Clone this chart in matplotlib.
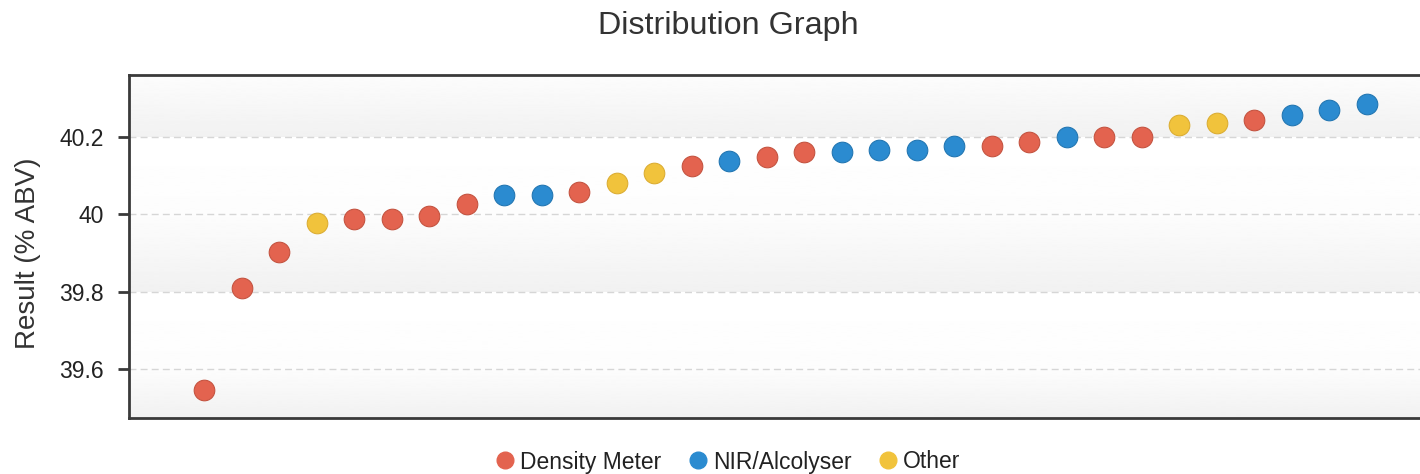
import numpy as np
import matplotlib
matplotlib.use("Agg")
import matplotlib.pyplot as plt
from matplotlib.lines import Line2D

plt.rcParams['font.family'] = ['Liberation Sans', 'DejaVu Sans']

title = "Distribution Graph"
y_label = "Result (% ABV)"
methods = ["Density Meter", "NIR/Alcolyser", "Other"]
method_colors = {"Density Meter": "#e3634f", "NIR/Alcolyser": "#2b8bd0", "Other": "#f1c33c"}
edge_colors = {"Density Meter": "#c55441", "NIR/Alcolyser": "#2377b3", "Other": "#dcae34"}

results = [39.546, 39.81, 39.904, 39.977, 39.987, 39.987, 39.997, 40.028,
           40.051, 40.051, 40.057, 40.08, 40.107, 40.126, 40.137, 40.149,
           40.16, 40.16, 40.165, 40.165, 40.177, 40.176, 40.188, 40.2,
           40.2, 40.2, 40.23, 40.235, 40.245, 40.257, 40.269, 40.286]
result_methods = ["Density Meter", "Density Meter", "Density Meter", "Other",
                  "Density Meter", "Density Meter", "Density Meter", "Density Meter",
                  "NIR/Alcolyser", "NIR/Alcolyser", "Density Meter", "Other",
                  "Other", "Density Meter", "NIR/Alcolyser", "Density Meter",
                  "Density Meter", "NIR/Alcolyser", "NIR/Alcolyser", "NIR/Alcolyser",
                  "NIR/Alcolyser", "Density Meter", "Density Meter", "NIR/Alcolyser",
                  "Density Meter", "Density Meter", "Other", "Other",
                  "Density Meter", "NIR/Alcolyser", "NIR/Alcolyser", "NIR/Alcolyser"]
y_ticks = [39.6, 39.8, 40.0, 40.2]
y_tick_labels = ["39.6", "39.8", "40", "40.2"]

fig = plt.figure(figsize=(14.2, 4.74), dpi=100)
ax = fig.add_axes([129 / 1420, 56 / 474, 1312.5 / 1420, 343 / 474])

ymin, ymax = 39.474, 40.36
xmin, xmax = -2, 33
ax.set_xlim(xmin, xmax)
ax.set_ylim(ymin, ymax)

# alternating plot bands, the shaded ones with a soft vertical gradient
edges = [ymin] + y_ticks + [ymax]
for i in range(len(edges) - 1):
    lo, hi = edges[i], edges[i + 1]
    if i % 2 == 0:
        grad = np.linspace(0.945, 0.99, 64).reshape(-1, 1)
    else:
        grad = np.linspace(0.99, 1.0, 64).reshape(-1, 1)
    ax.imshow(grad, cmap="gray", vmin=0, vmax=1, aspect="auto",
              extent=[xmin, xmax, lo, hi], origin="lower", zorder=0,
              interpolation="bilinear")

ax.set_yticks(y_ticks)
ax.set_yticklabels(y_tick_labels)
ax.set_xticks([])
ax.grid(axis="y", color="#d6d6d6", linestyle=(0, (5, 3)), linewidth=1.0, zorder=1)

x = np.arange(len(results))
for m in methods:
    idx = [i for i, mm in enumerate(result_methods) if mm == m]
    ax.scatter(x[idx], np.array(results)[idx], s=220, color=method_colors[m],
               edgecolor=edge_colors[m], linewidth=0.8, zorder=3)

for side in ["top", "left", "bottom", "right"]:
    ax.spines[side].set_color("#3a3a3a")
    ax.spines[side].set_linewidth(2)

ax.tick_params(axis="y", direction="out", length=8, width=2, color="#3a3a3a",
               labelsize=16.5, labelcolor="#222222", pad=10)

fig.text(28 / 1420, 1 - 253 / 474, y_label, rotation=90, fontsize=20,
         color="#333333", ha="center", va="center")
fig.text(728 / 1420, 1 - 26 / 474, title, fontsize=23.3, color="#333333",
         ha="center", va="center")

handles = [Line2D([0], [0], marker="o", linestyle="none", markersize=12,
                  markerfacecolor=method_colors[m], markeredgecolor=method_colors[m])
           for m in methods]
fig.legend(handles, methods, loc="center", bbox_to_anchor=(728 / 1420, 1 - 462 / 474),
           ncol=3, frameon=False, fontsize=16.5, handlelength=0.8, handletextpad=0.25,
           columnspacing=1.2, labelcolor="#222222")

fig.savefig("out.png", dpi=100, facecolor="white")
